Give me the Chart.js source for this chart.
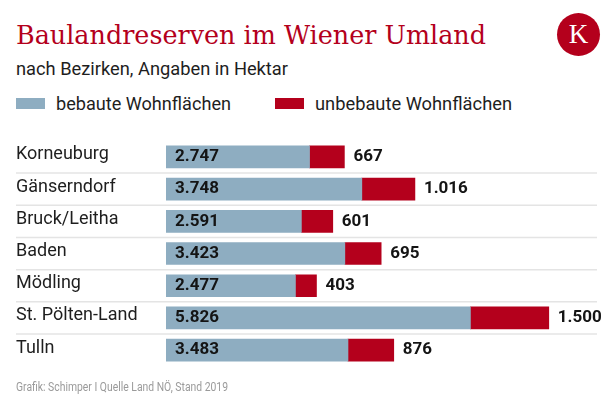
<!DOCTYPE html>
<html>
<head>
<meta charset="utf-8">
<script src="https://cdn.jsdelivr.net/npm/chart.js@4"></script>
<style>
  body { margin: 0; background: #fff; width: 616px; height: 408px; position: relative; overflow: hidden; font-family: Roboto, sans-serif; }
  .t { position: absolute; white-space: nowrap; transform-origin: left top; }
  #title { left: 16px; top: 22px; font: 26px/26px "DejaVu Serif", serif; color: #b4001c; }
  #sub { left: 16px; top: 60px; font: 18px/18px Roboto, sans-serif; color: #1e1e1e; }
  .lg { top: 95px; font: 18px/18px Roboto, sans-serif; color: #1e1e1e; }
  .box { position: absolute; top: 98px; width: 29px; height: 11px; }
  #foot { left: 16px; top: 381px; font: 12px/12px Roboto, sans-serif; color: #9a9a9a; }
  #logo { position: absolute; left: 557px; top: 13px; width: 43px; height: 43px; border-radius: 50%; background: #b4001c;
          color: #fff; font: 27px/43px "Liberation Serif", serif; text-align: center; }
  #wrap { position: absolute; left: 0; top: 130px; width: 616px; height: 250px; }
</style>
</head>
<body>
<div class="t" id="title" data-w="470">Baulandreserven im Wiener Umland</div>
<div id="logo">K</div>
<div class="t" id="sub" data-w="272">nach Bezirken, Angaben in Hektar</div>
<div class="box" style="left:16px;background:#8eadc1"></div>
<div class="t lg" style="left:56px" data-w="175">bebaute Wohnflächen</div>
<div class="box" style="left:275px;background:#b4001c"></div>
<div class="t lg" style="left:315px" data-w="197">unbebaute Wohnflächen</div>
<div id="wrap"><canvas id="chart"></canvas></div>
<div class="t" id="foot" data-w="212">Grafik: Schimper I Quelle Land NÖ, Stand 2019</div>
<script>
const districts = ['Korneuburg', 'Gänserndorf', 'Bruck/Leitha', 'Baden', 'Mödling', 'St. Pölten-Land', 'Tulln'];
const built = [2747, 3748, 2591, 3423, 2477, 5826, 3483];
const unbuilt = [667, 1016, 601, 695, 403, 1500, 876];

const blue = '#8eadc1';
const red = '#b4001c';

function fmt(v) {
    return String(v).replace(/\B(?=(\d{3})+(?!\d))/g, '.');
}

// row separators across the full width
const separators = {
    id: 'separators',
    beforeDatasetsDraw(chart) {
        const ctx = chart.ctx;
        const y = chart.scales.y;
        const step = (y.bottom - y.top) / districts.length;
        ctx.save();
        ctx.strokeStyle = '#e4e4e4';
        ctx.lineWidth = 1.5;
        for (let i = 0; i < districts.length - 1; i++) {
            const py = y.getPixelForValue(i) + step / 2;
            ctx.beginPath();
            ctx.moveTo(16, py);
            ctx.lineTo(597, py);
            ctx.stroke();
        }
        ctx.restore();
    }
};

const valueLabels = {
    id: 'valueLabels',
    afterDatasetsDraw(chart) {
        const ctx = chart.ctx;
        ctx.save();
        ctx.font = 'bold 17px Roboto';
        ctx.fillStyle = '#141414';
        ctx.textBaseline = 'middle';
        ctx.textAlign = 'left';
        chart.getDatasetMeta(0).data.forEach((bar, i) => {
            ctx.fillText(fmt(built[i]), bar.base + 9, bar.y);
        });
        chart.getDatasetMeta(1).data.forEach((bar, i) => {
            ctx.fillText(fmt(unbuilt[i]), bar.x + 9, bar.y);
        });
        ctx.restore();
    }
};

const chart = new Chart(document.getElementById('chart'), {
    type: 'bar',
    data: {
        labels: districts,
        datasets: [
            { label: 'bebaute Wohnflächen', data: built, backgroundColor: blue, barThickness: 22 },
            { label: 'unbebaute Wohnflächen', data: unbuilt, backgroundColor: red, barThickness: 22 }
        ]
    },
    options: {
        indexAxis: 'y',
        responsive: true,
        maintainAspectRatio: false,
        animation: false,
        layout: { padding: { left: 16, right: 32, top: 8.75, bottom: 13.75 } },
        plugins: {
            legend: { display: false },
            tooltip: { enabled: false }
        },
        scales: {
            x: { stacked: true, display: false, min: 0, max: 8000 },
            y: {
                stacked: true,
                grid: { display: false },
                border: { display: false },
                afterFit(scale) { scale.width = 150; },
                ticks: {
                    crossAlign: 'far',
                    padding: 0,
                    labelOffset: -2,
                    color: '#1e1e1e',
                    font: { family: 'Roboto', size: 18 }
                }
            }
        }
    },
    plugins: [separators, valueLabels]
});

function fit() {
    document.querySelectorAll('[data-w]').forEach(el => {
        const w = el.getBoundingClientRect().width;
        if (w > 0) el.style.transform = 'scaleX(' + (Number(el.dataset.w) / w) + ')';
    });
}
document.fonts.ready.then(fit);
</script>
</body>
</html>
